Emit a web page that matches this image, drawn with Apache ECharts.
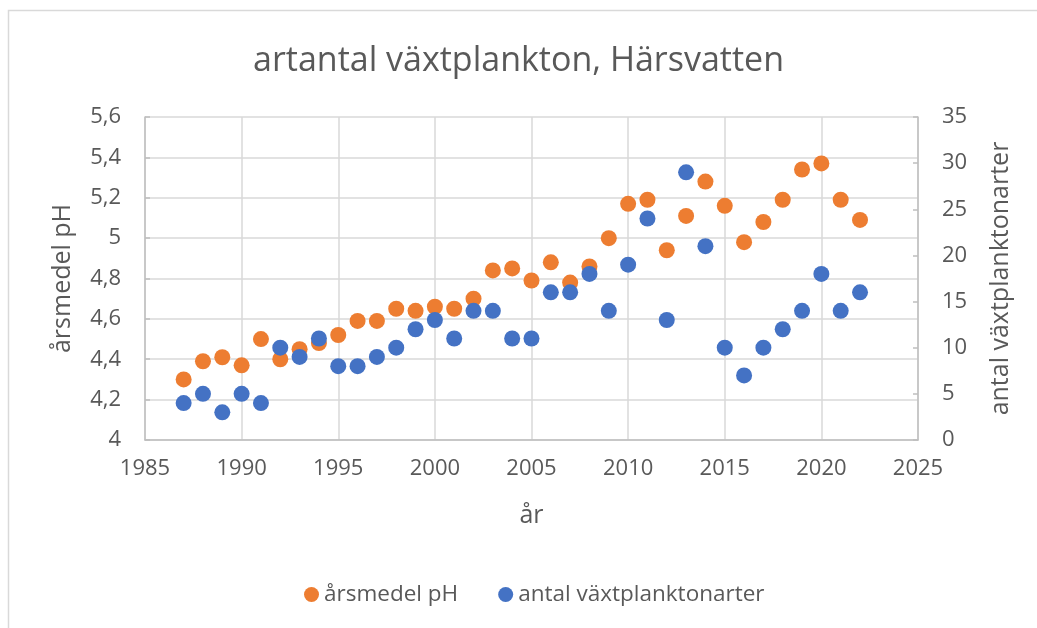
<!DOCTYPE html>
<html>
<head>
<meta charset="utf-8">
<script src="https://cdn.jsdelivr.net/npm/echarts@6/dist/echarts.min.js"></script>
<style>
html,body{margin:0;padding:0;background:#fff;}
#c{width:1037px;height:628px;}
</style>
</head>
<body>
<div id="c"></div>
<script>
const years = [1987,1988,1989,1990,1991,1992,1993,1994,1995,1996,1997,1998,1999,2000,2001,2002,2003,2004,2005,2006,2007,2008,2009,2010,2011,2012,2013,2014,2015,2016,2017,2018,2019,2020,2021,2022];
const phValues = [4.30,4.39,4.41,4.37,4.50,4.40,4.45,4.48,4.52,4.59,4.59,4.65,4.64,4.66,4.65,4.70,4.84,4.85,4.79,4.88,4.78,4.86,5.00,5.17,5.19,4.94,5.11,5.28,5.16,4.98,5.08,5.19,5.34,5.37,5.19,5.09];
const speciesCounts = [4,5,3,5,4,10,9,11,8,8,9,10,12,13,11,14,14,11,11,16,16,18,14,19,24,13,29,21,10,7,10,12,14,18,14,16];
const seriesNames = ['årsmedel pH','antal växtplanktonarter'];
const titleText = 'artantal växtplankton, Härsvatten';
const xName = 'år';

const FONT = 'Open Sans';
const TXT = '#595959';
const GRID = '#d9d9d9';
const AXIS = '#bfbfbf';

const chart = echarts.init(document.getElementById('c'), null, {renderer:'canvas'});
chart.setOption({
  backgroundColor:'#fff',
  animation:false,
  graphic:[{type:'rect',left:6,top:8,shape:{width:1100,height:700},style:{fill:'none',stroke:'#d9d9d9',lineWidth:1.5},silent:true}],
  title:{text:titleText,left:'center',top:39,textStyle:{fontFamily:FONT,fontSize:34,fontWeight:'normal',color:TXT}},
  legend:{bottom:17,left:299,itemGap:40,itemWidth:15,itemHeight:15,icon:'circle',
    textStyle:{fontFamily:FONT,fontSize:22.5,color:TXT},data:seriesNames},
  grid:{left:145,right:119,top:117,bottom:188,containLabel:false},
  xAxis:{type:'value',min:1985,max:2025,interval:5,name:xName,nameLocation:'middle',nameGap:63,
    nameTextStyle:{fontFamily:FONT,fontSize:25,color:TXT},
    axisLine:{show:true,lineStyle:{color:AXIS,width:1.5}},axisTick:{show:false},
    axisLabel:{fontFamily:FONT,fontSize:22,color:TXT,margin:18,formatter:v=>String(v)},
    splitLine:{show:true,lineStyle:{color:GRID,width:1.5}}},
  yAxis:[
    {type:'value',min:4,max:5.6,interval:0.2,name:seriesNames[0],nameLocation:'middle',nameRotate:90,nameGap:70,
      nameTextStyle:{fontFamily:FONT,fontSize:25,color:TXT},
      axisLine:{show:true,lineStyle:{color:AXIS,width:1.5}},
      axisTick:{show:true,inside:true,length:5,lineStyle:{color:AXIS,width:1.5}},
      axisLabel:{fontFamily:FONT,fontSize:22,color:TXT,margin:24,
        formatter:v=>String(Math.round(v*10)/10).replace('.',',')},
      splitLine:{show:true,lineStyle:{color:GRID,width:1.5}}},
    {type:'value',min:0,max:35,interval:5,name:seriesNames[1],nameLocation:'middle',nameRotate:90,nameGap:70,
      nameTextStyle:{fontFamily:FONT,fontSize:25,color:TXT},
      axisLine:{show:true,lineStyle:{color:AXIS,width:1.5}},
      axisTick:{show:true,inside:true,length:5,lineStyle:{color:AXIS,width:1.5}},
      axisLabel:{fontFamily:FONT,fontSize:22,color:TXT,margin:24},
      splitLine:{show:false}}
  ],
  series:[
    {name:seriesNames[0],type:'scatter',yAxisIndex:0,symbolSize:16,itemStyle:{color:'#ED7D31',opacity:1},
      data:years.map((y,i)=>[y,phValues[i]])},
    {name:seriesNames[1],type:'scatter',yAxisIndex:1,symbolSize:16,itemStyle:{color:'#4472C4',opacity:1},
      data:years.map((y,i)=>[y,speciesCounts[i]])}
  ]
});
</script>
</body>
</html>
